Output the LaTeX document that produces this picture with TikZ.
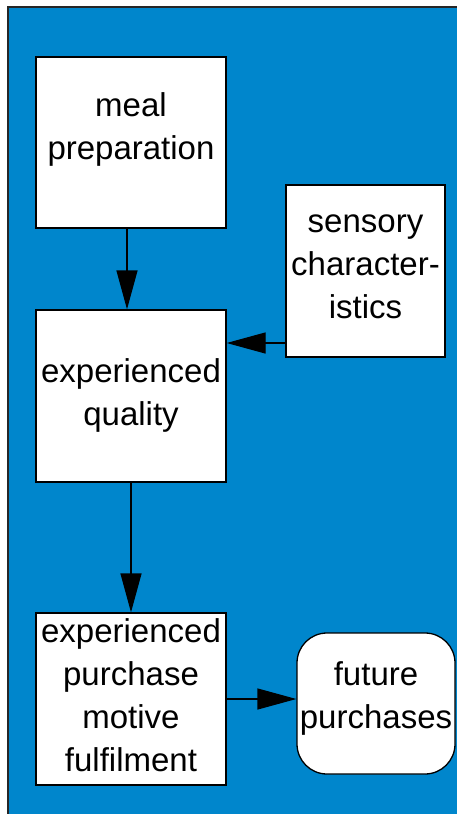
\documentclass[tikz,border=0pt]{standalone}
\usepackage{fontspec}
\setmainfont{Liberation Sans}
\usetikzlibrary{arrows.meta}
\definecolor{bg}{RGB}{0,134,204}
\begin{document}
\begin{tikzpicture}[x=1pt,y=-1pt,
  box/.style={draw=black, fill=white, line width=1.3pt, inner sep=0pt},
  txt/.style={align=center, font=\fontsize{33}{43}\selectfont, inner sep=0pt},
  arr/.style={-{Triangle[length=39pt,width=21pt]}, line width=1.3pt}]
\useasboundingbox (0,0) rectangle (456,814);
\fill[white] (0,0) rectangle (456,814);
\fill[bg] (8,7) rectangle (460,818);
\draw[line width=2pt, black!85] (8,818) -- (8,7) -- (460,7);
\node[box, minimum width=190pt, minimum height=171pt] (meal) at (131,142.5) {};
\node[box, minimum width=159pt, minimum height=172pt] (sens) at (365.5,271) {};
\node[box, minimum width=190pt, minimum height=172pt] (qual) at (131,396) {};
\node[box, minimum width=190pt, minimum height=172pt] (motive) at (131,699) {};
\node[box, rounded corners=30pt, minimum width=158pt, minimum height=141pt] (future) at (376,703.5) {};
\node[txt] (mealt) at ([yshift=13pt]meal.center) {meal\\preparation};
\node[txt] (senst) at ([yshift=4pt]sens.center) {sensory\\character-\\istics};
\node[txt] (qualt) at ([yshift=1pt]qual.center) {experienced\\quality};
\node[txt] (motivet) at ([yshift=4pt]motive.center) {experienced\\purchase\\motive\\fulfilment};
\node[txt] (futuret) at ([yshift=5pt]future.center) {future\\purchases};
\draw[arr] ([xshift=-4pt]meal.south) -- ([xshift=-4pt]qual.north);
\coordinate (s) at ([yshift=-72pt]sens.west);
\draw[arr] (s) -- (s -| qual.east);
\draw[arr] (qual.south) -- (motive.north);
\draw[arr] (motive.east) -- (motive.east -| future.west);
\end{tikzpicture}
\end{document}
